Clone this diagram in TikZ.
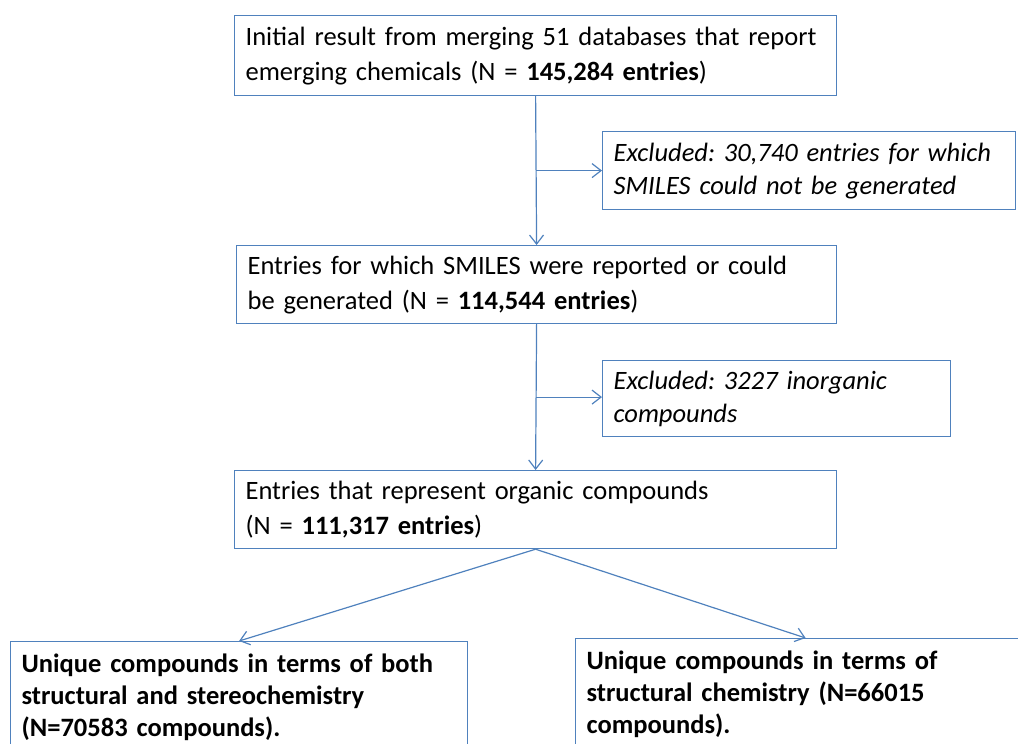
\documentclass[tikz,border=0pt]{standalone}
\usepackage{fontspec}
\setmainfont{Carlito}
\frenchspacing
\usetikzlibrary{arrows.meta,calc}
\definecolor{boxblue}{RGB}{79,129,189}
\begin{document}
\begin{tikzpicture}[x=1pt, y=-1pt, >={Straight Barb[length=9pt,width=14pt]},
    box/.style={draw=boxblue, line width=1.2pt, anchor=north west, align=left,
        inner xsep=11pt, inner ysep=0pt, font=\fontsize{26.5}{35}\selectfont},
    result/.style={box, inner ysep=12.5pt, font=\fontsize{26.5}{32}\selectfont\bfseries},
    flow/.style={->, draw=boxblue, line width=1.2pt}]
\useasboundingbox (0,0) rectangle (1018,744);
\clip (0,0) rectangle (1018,744);
\node[box, text width=580pt, minimum height=80pt] (merged) at (234,15)
    {Initial result from merging 51 databases that report\\emerging chemicals (N = \textbf{145,284 entries})};
\node[box, text width=391pt, minimum height=78pt, font=\fontsize{26.5}{33}\selectfont\itshape] (nosmiles) at (602,131)
    {Excluded: 30,740 entries for which\\SMILES could not be generated};
\node[box, text width=578pt, minimum height=78pt] (smiles) at (236,245)
    {Entries for which SMILES were reported or could\\be generated (N = \textbf{114,544 entries})};
\node[box, text width=326pt, minimum height=76pt, font=\fontsize{26.5}{33}\selectfont\itshape] (inorganic) at (602,360)
    {Excluded: 3227 inorganic\\compounds};
\node[box, text width=580pt, minimum height=78pt] (organic) at (234,470)
    {Entries that represent organic compounds\\(N = \textbf{111,317 entries})};
\node[result, text width=435pt] (stereo) at (10,641)
    {Unique compounds in terms of both\\structural and stereochemistry\\(N=70583 compounds).};
\node[result, text width=438pt] (structural) at (575,638)
    {Unique compounds in terms of\\structural chemistry (N=66015\\compounds).};
% main chain with the exclusions branching off halfway
\coordinate (split1) at ($(merged.south)!0.5!(smiles.north)$);
\coordinate (split2) at ($(smiles.south)!0.5!(organic.north)$);
\draw[flow] (merged.south) -- (smiles.north);
\draw[flow] (split1) -- (split1 -| nosmiles.west);
\draw[flow] (smiles.south) -- (organic.north);
\draw[flow] (split2) -- (split2 -| inorganic.west);
\draw[flow] (organic.south) -- (stereo.north);
\draw[flow] (organic.south) -- (structural.north);
\end{tikzpicture}
\end{document}
